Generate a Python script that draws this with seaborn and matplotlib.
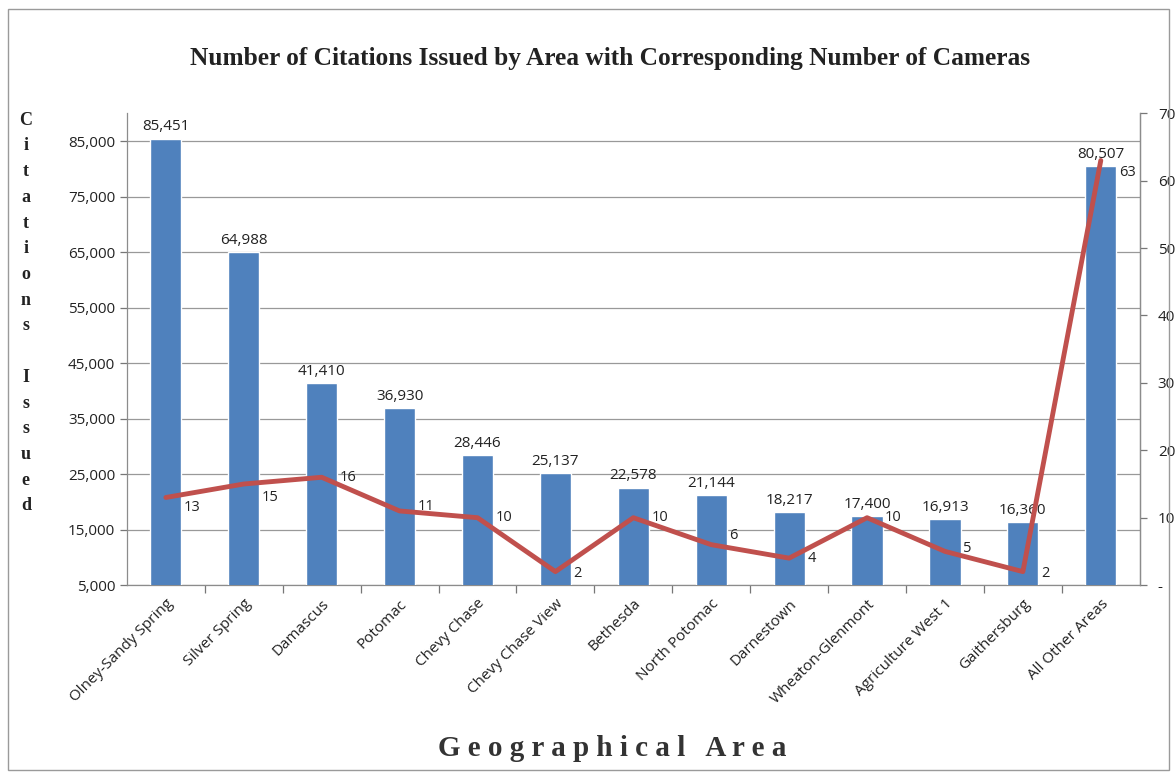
import numpy as np
import pandas as pd
import matplotlib
matplotlib.use("Agg")
import matplotlib.pyplot as plt
import seaborn as sns
from matplotlib.patches import Rectangle
from matplotlib.ticker import FixedLocator, FuncFormatter

# 数据
areas = ['Olney-Sandy Spring', 'Silver Spring', 'Damascus', 'Potomac', 'Chevy Chase',
         'Chevy Chase View', 'Bethesda', 'North Potomac', 'Darnestown', 'Wheaton-Glenmont',
         'Agriculture West 1', 'Gaithersburg', 'All Other Areas']
citations = [85451, 64988, 41410, 36930, 28446, 25137, 22578, 21144, 18217, 17400, 16913, 16360, 80507]
cameras = [13, 15, 16, 11, 10, 2, 10, 6, 4, 10, 5, 2, 63]

left_ticks = [5000, 15000, 25000, 35000, 45000, 55000, 65000, 75000, 85000]
right_ticks = [0, 10, 20, 30, 40, 50, 60, 70]

# 折线数值标签的上下微调（像素，负数向下）
cam_label_dy = [-10, -13, 0, 4, 0, -2, 0, 9, 0, 0, 3, -2, -12]

bar_color = '#4F81BD'
line_color = '#C0504D'
tick_font = 'Open Sans'
serif = 'Liberation Serif'

sns.set_theme(style='white')
plt.rcParams['font.family'] = [tick_font, 'DejaVu Sans']

df = pd.DataFrame({'area': areas, 'citations': citations, 'cameras': cameras})

fig = plt.figure(figsize=(11.75, 7.76), dpi=100)
ax = fig.add_axes([0.108, 0.246, 0.862, 0.608])

sns.barplot(data=df, x='area', y='citations', color=bar_color, width=0.4,
            saturation=1, ax=ax, zorder=3)
ax.set_ylim(5000, 90000)
ax.set_xlim(-0.5, len(areas) - 0.5)
ax.yaxis.set_major_locator(FixedLocator(left_ticks))
ax.yaxis.set_major_formatter(FuncFormatter(lambda v, p: f'{int(v):,}'))
ax.grid(axis='y', color='#999999', linewidth=0.9, zorder=0)
ax.set_xlabel('')
ax.set_ylabel('')

# 柱子数值标签
ax.bar_label(ax.containers[0], labels=[f'{v:,}' for v in citations], padding=3,
             fontsize=11, color='#222222')

# x 轴刻度：标签居中，刻度线在类别之间
ax.set_xticks(range(len(areas)))
ax.set_xticklabels(areas, rotation=45, ha='right', rotation_mode='anchor',
                   fontsize=11, color='#222222')
ax.set_xticks(np.arange(0.5, len(areas) - 0.5, 1), minor=True)
ax.tick_params(axis='x', which='major', length=0, pad=8)
ax.tick_params(axis='x', which='minor', length=6, width=0.9, color='#777777',
               direction='out', bottom=True)
ax.tick_params(axis='y', which='major', length=5, width=0.9, color='#777777',
               direction='out', left=True, labelsize=11, labelcolor='#222222')

ax.spines['top'].set_visible(False)
for s in ['left', 'bottom', 'right']:
    ax.spines[s].set_color('#8c8c8c')
    ax.spines[s].set_linewidth(0.9)

# 右轴：摄像头数量
ax2 = ax.twinx()
sns.lineplot(x=np.arange(len(areas)), y=cameras, color=line_color, linewidth=3.5,
             ax=ax2, zorder=4)
ax2.set_ylim(0, 70)
ax2.yaxis.set_major_locator(FixedLocator(right_ticks))
ax2.yaxis.set_major_formatter(FuncFormatter(lambda v, p: '-' if v == 0 else f'{int(v)}'))
ax2.tick_params(axis='y', length=5, width=0.9, color='#777777', direction='out',
                right=True, labelsize=11, labelcolor='#222222', pad=8)
ax2.spines['top'].set_visible(False)
ax2.spines['right'].set_color('#8c8c8c')
ax2.spines['right'].set_linewidth(0.9)
ax2.spines['left'].set_visible(False)
ax2.spines['bottom'].set_visible(False)
ax2.grid(False)

for i, (v, dy) in enumerate(zip(cameras, cam_label_dy)):
    ax2.annotate(str(v), (i, v), xytext=(18, dy), textcoords='offset pixels',
                 ha='left', va='center', fontsize=10.5, color='#222222', zorder=6)

# 标题与轴标题
fig.text(0.519, 0.925, 'Number of Citations Issued by Area with Corresponding Number of Cameras',
         ha='center', va='center', fontsize=18.3, fontweight='bold', family=serif,
         color='#222222')
fig.text(0.521, 0.035, 'G e o g r a p h i c a l   A r e a', ha='center', va='center',
         fontsize=21, fontweight='bold', family=serif, color='#333333')
fig.text(0.022, 0.856, '\n'.join(list('Citations') + [''] + list('Issued')),
         ha='center', va='top', fontsize=13, fontweight='bold', family=serif,
         linespacing=1.67, color='#222222')

# 图表外框
fig.patches.append(Rectangle((0.007, 0.008), 0.988, 0.98, transform=fig.transFigure,
                             fill=False, edgecolor='#9a9a9a', linewidth=1))

fig.savefig('out.png', dpi=100)
